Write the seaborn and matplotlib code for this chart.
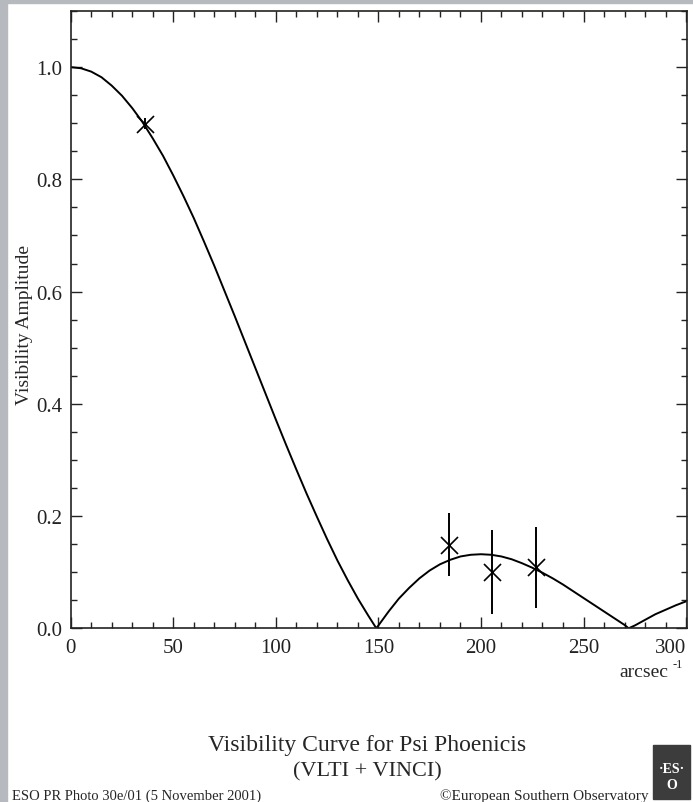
import matplotlib
matplotlib.use("Agg")
import matplotlib.pyplot as plt
from matplotlib.patches import Rectangle
from matplotlib.ticker import MultipleLocator
import pandas as pd
import seaborn as sns

###############################################################################
# data

# fitted uniform-disk visibility curve
curve_u = [0, 5, 10, 15, 20, 25, 30, 35, 40, 45, 50, 55, 60, 65, 70, 75,
           80, 85, 90, 95, 100, 105, 110, 115, 120, 125, 130, 135, 140,
           145, 149, 150, 155, 160, 165, 170, 175, 180, 185, 190, 195, 200,
           205, 210, 215, 220, 225, 230, 235, 240, 245, 250, 255, 260, 265,
           270, 272, 275, 280, 285, 290, 295, 300]
curve_v = [1.000, 0.998, 0.992, 0.982, 0.967, 0.949, 0.927, 0.902, 0.873,
           0.842, 0.807, 0.770, 0.731, 0.689, 0.646, 0.601, 0.556, 0.510,
           0.464, 0.418, 0.372, 0.327, 0.283, 0.240, 0.199, 0.159, 0.121,
           0.086, 0.053, 0.023, 0.000, 0.005, 0.030, 0.053, 0.072, 0.089,
           0.103, 0.114, 0.122, 0.128, 0.131, 0.132, 0.131, 0.128, 0.123,
           0.116, 0.108, 0.099, 0.089, 0.078, 0.066, 0.054, 0.042, 0.030,
           0.018, 0.006, 0.000, 0.005, 0.015, 0.025, 0.033, 0.041, 0.048]

# VLTI + VINCI measurements
obs_u = [36.2, 184.2, 205.4, 226.8]
obs_v = [0.899, 0.149, 0.100, 0.109]
obs_err = [0.010, 0.056, 0.075, 0.072]

x_major = [0, 50, 100, 150, 200, 250, 300]
y_major = [0.0, 0.2, 0.4, 0.6, 0.8, 1.0]

###############################################################################

sns.set_style("ticks")
plt.rcParams['font.family'] = ['Liberation Serif', 'DejaVu Serif']

W, H = 693, 803
fig = plt.figure(figsize=(W / 100, H / 100), dpi=100)
fig.patch.set_facecolor('white')

# grey frame strips of the original photo
fig.patches.append(Rectangle((0, 0), 7 / W, 1, transform=fig.transFigure,
                             color='#b6babe', zorder=0))
fig.patches.append(Rectangle((0, 1 - 4 / H), 1, 4 / H,
                             transform=fig.transFigure, color='#b6babe',
                             zorder=0))

ax = fig.add_axes([70.7 / W, 1 - 629.3 / H, (687.3 - 70.7) / W,
                   (629.3 - 12) / H])

curve = pd.DataFrame({'u': curve_u, 'v': curve_v})
sns.lineplot(data=curve, x='u', y='v', ax=ax, color='black', lw=1.4,
             sort=False, estimator=None)

ax.errorbar(obs_u, obs_v, yerr=obs_err, fmt='none', ecolor='black',
            elinewidth=1.4, capsize=0)
sns.scatterplot(x=obs_u, y=obs_v, ax=ax, marker='x', s=150, color='black',
                linewidth=1.2, zorder=5)

ax.set_xlim(0, 300.6)
ax.set_ylim(0, 1.1)
ax.set_xticks(x_major)
ax.set_yticks(y_major)
ax.set_yticklabels(["%.1f" % v for v in y_major])
ax.xaxis.set_minor_locator(MultipleLocator(10))
ax.yaxis.set_minor_locator(MultipleLocator(0.05))
ax.tick_params(which='both', direction='in', top=True, right=True,
               width=1.0, colors='#222222', labelsize=15)
ax.tick_params(which='major', length=8)
ax.tick_params(which='minor', length=4.5)
ax.tick_params(axis='x', pad=7)
ax.tick_params(axis='y', pad=6)
ax.set_xlabel('')
ax.set_ylabel('')
for s in ax.spines.values():
    s.set_linewidth(1.2)
    s.set_color('#222222')
# last x label sits inside the frame, as in the photo
ax.get_xticklabels()[-1].set_horizontalalignment('right')

fig.text(25 / W, 1 - 325 / H, 'Visibility Amplitude', rotation=90,
         ha='center', va='center', fontsize=14)
fig.text(668 / W, 1 - 673 / H, 'arcsec', ha='right', va='center',
         fontsize=14)
fig.text(673 / W, 1 - 665 / H, '-1', ha='left', va='center', fontsize=9)

fig.text(367 / W, 1 - 746 / H, 'Visibility Curve for Psi Phoenicis',
         ha='center', va='center', fontsize=17)
fig.text(367 / W, 1 - 772 / H, '(VLTI + VINCI)', ha='center', va='center',
         fontsize=16)

fig.text(12 / W, 1 - 796 / H, 'ESO PR Photo 30e/01 (5 November 2001)',
         ha='left', va='center', fontsize=10.5)
fig.text(648 / W, 1 - 796 / H, '\u00a9European Southern Observatory',
         ha='right', va='center', fontsize=11)

# ESO badge
fig.patches.append(Rectangle((653 / W, 3 / H), 37 / W, 54 / H,
                             transform=fig.transFigure, color='#3c3c3c',
                             zorder=1))
fig.text(671.5 / W, 1 - 770 / H, '\u00b7ES\u00b7', ha='center', va='center',
         fontsize=10, color='white', fontweight='bold')
fig.text(671.5 / W, 1 - 786 / H, 'O', ha='center', va='center', fontsize=10,
         color='white', fontweight='bold')

plt.savefig('out.png', dpi=100)
